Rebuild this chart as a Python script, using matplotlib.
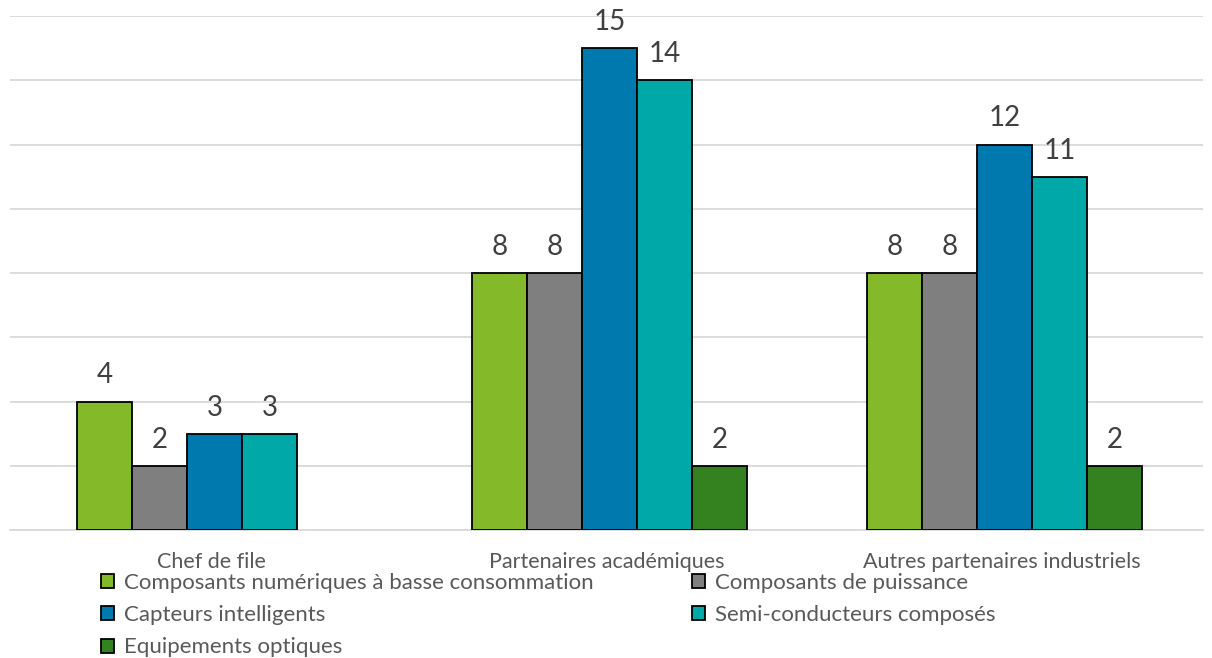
import matplotlib
matplotlib.use('Agg')
import matplotlib.pyplot as plt
import numpy as np
from matplotlib.patches import Patch

# data
categories = ['Chef de file', 'Partenaires académiques', 'Autres partenaires industriels']
series_names = ['Composants numériques à basse consommation',
                'Composants de puissance',
                'Capteurs intelligents',
                'Semi-conducteurs composés',
                'Equipements optiques']
numeriques = [4, 8, 8]
puissance = [2, 8, 8]
capteurs = [3, 15, 12]
semi_cond = [3, 14, 11]
optiques = [0, 2, 2]

colors = ['#84BA29', '#7F7F7F', '#0079AE', '#00A8A8', '#34811F']
label_color = '#404040'
text_color = '#595959'

plt.rcParams['font.family'] = ['Lato', 'DejaVu Sans']

fig = plt.figure(figsize=(12.12, 6.58), dpi=100)
ax = fig.add_axes([10 / 1212, 128 / 658, 1193 / 1212, 514 / 658])

all_series = [numeriques, puissance, capteurs, semi_cond, optiques]
x = np.arange(len(categories))
width = 0.139
offsets = (np.arange(5) - 2) * width

for i, vals in enumerate(all_series):
    vals = np.array(vals)
    pos = x + offsets[i] + 0.018
    mask = vals > 0
    bars = ax.bar(pos[mask], vals[mask], width, color=colors[i],
                  edgecolor='black', linewidth=1.3, zorder=3)
    for b, v in zip(bars, vals[mask]):
        ax.annotate(str(v), (b.get_x() + b.get_width() / 2, v),
                    xytext=(0, 13), textcoords='offset points',
                    ha='center', va='baseline', fontsize=20, color=label_color)

ax.set_xlim(-0.5, 2.52)
ax.set_ylim(0, 16)
ax.set_yticks(np.arange(0, 17, 2))
ax.yaxis.grid(True, color='#D9D9D9', linewidth=1.3, zorder=0)
ax.set_yticklabels([])
ax.tick_params(axis='y', length=0)
ax.set_xticks(x + 0.01)
ax.set_xticklabels(categories, fontsize=15.5, color=text_color)
ax.tick_params(axis='x', length=0, pad=16)
for side in ['top', 'right', 'left']:
    ax.spines[side].set_visible(False)
ax.spines['bottom'].set_color('#D9D9D9')
ax.spines['bottom'].set_linewidth(1.3)

# legend: fill rows left to right (matplotlib fills column-wise)
handles = [Patch(facecolor=c, edgecolor='black', linewidth=1.3) for c in colors]
order = [0, 2, 4, 1, 3]
fig.legend([handles[k] for k in order], [series_names[k] for k in order],
           ncol=2, loc='upper left', bbox_to_anchor=(101 / 1212, 1 - 573 / 658),
           frameon=False, fontsize=16, labelcolor=text_color,
           handlelength=0.6, handleheight=0.6, handletextpad=0.45,
           columnspacing=4.4, labelspacing=0.55, borderaxespad=0, borderpad=0)

fig.savefig('out.png', dpi=100)
